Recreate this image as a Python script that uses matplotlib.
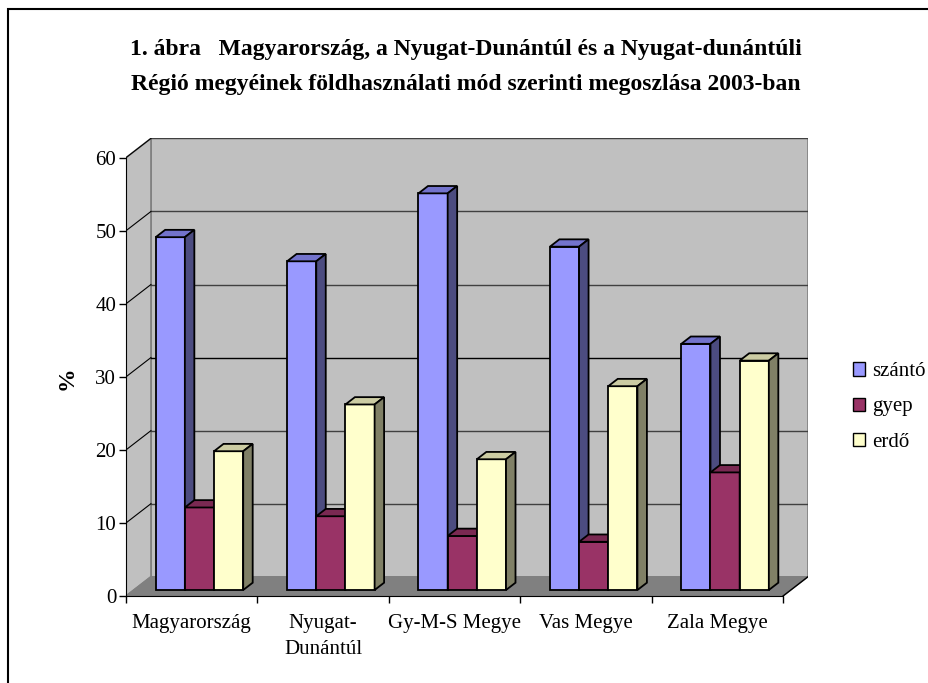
import matplotlib
matplotlib.use("Agg")
import matplotlib.pyplot as plt
from matplotlib.patches import Polygon, Rectangle

# Data (% of land area, 2003)
categories = ["Magyarország", "Nyugat-\nDunántúl", "Gy-M-S Megye", "Vas Megye", "Zala Megye"]
series = ["szántó", "gyep", "erdő"]
szanto = [48.3, 45.0, 54.3, 47.0, 33.7]
gyep = [11.3, 10.1, 7.4, 6.6, 16.1]
erdo = [19.0, 25.4, 17.9, 27.9, 31.4]
values = [szanto, gyep, erdo]
yticks = [0, 10, 20, 30, 40, 50, 60]

front_colors = ["#9999FF", "#993366", "#FFFFCC"]
top_colors = ["#7373CC", "#7A2952", "#CCCCA3"]
side_colors = ["#4C4C80", "#4D1A33", "#808066"]

plt.rcParams["font.family"] = ["Liberation Serif", "DejaVu Serif"]

W, H = 929, 683
fig = plt.figure(figsize=(W / 100, H / 100), dpi=100)

# oblique 3D offset (in data units) of the back wall
DX, DY = 0.19, 2.64
YMAX = 60
n = len(categories)

ax = fig.add_axes([126 / W, 87 / H, 682 / W, 457.6 / H])
ax.set_xlim(0, n + DX)
ax.set_ylim(0, YMAX + DY)
ax.patch.set_visible(False)

# walls and floor
ax.add_patch(Polygon([(DX, DY), (n + DX, DY), (n + DX, YMAX + DY), (DX, YMAX + DY)],
                     closed=True, fc="#C0C0C0", ec="#808080", lw=1.2, zorder=0))
ax.add_patch(Polygon([(0, 0), (DX, DY), (DX, YMAX + DY), (0, YMAX)],
                     closed=True, fc="#C0C0C0", ec="#808080", lw=1.2, zorder=0))
ax.add_patch(Polygon([(0, 0), (n, 0), (n + DX, DY), (DX, DY)],
                     closed=True, fc="#808080", ec="#808080", lw=1, zorder=0))
ax.plot([n, n + DX], [0, DY], color="black", lw=1, zorder=1)

# gridlines on back and side walls
for v in yticks[1:]:
    c = "black" if v == 30 else "#404040"
    ax.plot([DX, n + DX], [v + DY, v + DY], color=c, lw=1, zorder=1)
    ax.plot([0, DX], [v, v + DY], color="black", lw=0.8, zorder=1)

# 3D columns
bw = 0.222
off = (1 - 3 * bw) / 2
d0, d1 = 0.31, 0.69
dd = d1 - d0
for j, vals in enumerate(values):
    for i, v in enumerate(vals):
        x0 = i + off + j * bw + d0 * DX
        y0 = d0 * DY
        z = 3 + j
        ax.bar(x0, v, width=bw, bottom=y0, align="edge", color=front_colors[j],
               edgecolor="black", lw=1.3, zorder=z)
        ax.add_patch(Polygon([(x0, y0 + v), (x0 + bw, y0 + v),
                              (x0 + bw + dd * DX, y0 + v + dd * DY), (x0 + dd * DX, y0 + v + dd * DY)],
                             closed=True, fc=top_colors[j], ec="black", lw=1.3, zorder=z))
        ax.add_patch(Polygon([(x0 + bw, y0), (x0 + bw + dd * DX, y0 + dd * DY),
                              (x0 + bw + dd * DX, y0 + v + dd * DY), (x0 + bw, y0 + v)],
                             closed=True, fc=side_colors[j], ec="black", lw=1.3, zorder=z))

# axes
for s in ["top", "right"]:
    ax.spines[s].set_visible(False)
ax.spines["left"].set_bounds(0, YMAX)
ax.spines["bottom"].set_bounds(0, n)
ax.spines["left"].set_zorder(10)
ax.spines["bottom"].set_zorder(10)
ax.set_yticks(yticks)
ax.tick_params(axis="y", labelsize=15, length=5, width=1, pad=2)
ax.set_xticks(range(n + 1))
ax.set_xticklabels([])
ax.tick_params(axis="x", which="major", length=5, width=1)
ax.set_xticks([i + 0.5 for i in range(n)], minor=True)
ax.set_xticklabels(categories, minor=True, fontsize=15, linespacing=1.5)
ax.tick_params(axis="x", which="minor", length=0, pad=13)
fig.text(67 / W, 1 - 378 / H, "%", rotation=90, ha="center", va="center",
         fontsize=17, fontweight="bold")

# legend
handles = [Rectangle((0, 0), 1, 1, fc=c, ec="black", lw=1) for c in front_colors]
fig.legend(handles, series, loc="center left", bbox_to_anchor=(853 / W, 1 - 407 / H),
           frameon=False, fontsize=15, handlelength=0.6, handleheight=0.6,
           handletextpad=0.3, labelspacing=0.78, borderpad=0, borderaxespad=0)

# title
fig.text(466 / W, 1 - 55 / H, "1. ábra   Magyarország, a Nyugat-Dunántúl és a Nyugat-dunántúli",
         ha="center", va="baseline", fontsize=17, fontweight="bold")
fig.text(466 / W, 1 - 90 / H, "Régió megyéinek földhasználati mód szerinti megoszlása 2003-ban",
         ha="center", va="baseline", fontsize=17, fontweight="bold")

# outer frame (only left and top edges inside the image)
fig.add_artist(Rectangle((8 / W, -0.1), 1.2, 1 - 9 / H + 0.1, transform=fig.transFigure,
                         fill=False, ec="black", lw=1.5))

fig.savefig("out.png", dpi=100, facecolor="white")
